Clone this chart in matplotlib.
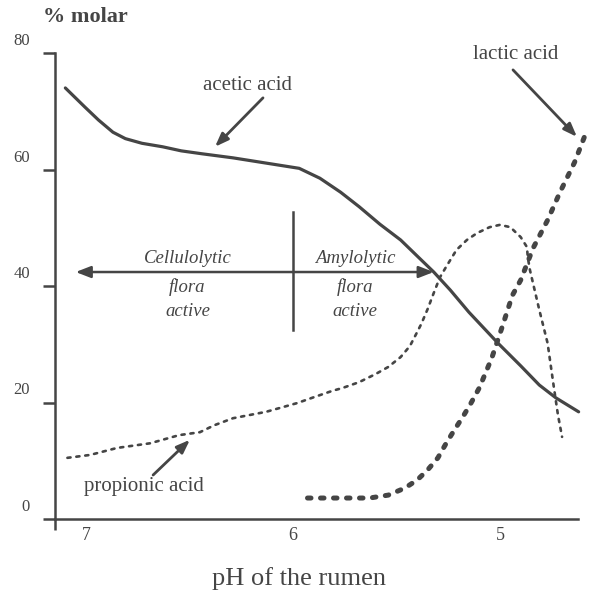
import matplotlib
matplotlib.use("Agg")
import matplotlib.pyplot as plt
import matplotlib.transforms as mtransforms

# ---- data ----
acetic_ph = [7.10, 7.005, 6.94, 6.87, 6.81, 6.73, 6.63, 6.54, 6.44, 6.29, 6.13, 5.97, 5.87, 5.77,
             5.68, 5.58, 5.48, 5.39, 5.32, 5.24, 5.15, 5.01, 4.90, 4.81, 4.73, 4.62]
acetic_val = [74.0, 70.7, 68.5, 66.4, 65.3, 64.5, 63.9, 63.2, 62.7, 62.0, 61.1, 60.2, 58.5, 56.1,
              53.6, 50.6, 47.9, 44.8, 42.4, 39.3, 35.5, 30.2, 26.3, 23.0, 20.8, 18.4]

propionic_ph = [7.09, 6.98, 6.85, 6.69, 6.55, 6.45, 6.38, 6.29, 6.13, 5.98, 5.90, 5.81, 5.76,
                5.68, 5.60, 5.54, 5.48, 5.435, 5.40, 5.38, 5.35, 5.32, 5.29, 5.26, 5.21, 5.16,
                5.11, 5.05, 5.00, 4.95, 4.90, 4.87, 4.865, 4.855, 4.81, 4.77, 4.74, 4.72, 4.70]
propionic_val = [10.5, 11.0, 12.2, 13.0, 14.4, 14.9, 16.1, 17.3, 18.4, 19.9, 20.9, 22.0, 22.5,
                 23.5, 24.9, 26.1, 27.8, 29.7, 32.1, 33.5, 36.0, 38.8, 41.5, 43.3, 46.2, 47.9,
                 49.1, 50.1, 50.5, 50.1, 48.4, 46.7, 44.8, 42.7, 35.9, 30.2, 22.7, 17.9, 14.1]

lactic_ph = [5.93, 5.74, 5.63, 5.54, 5.46, 5.40, 5.35, 5.30, 5.26, 5.22, 5.18, 5.14, 5.10, 5.04,
             4.99, 4.94, 4.90, 4.84, 4.77, 4.71, 4.64, 4.58]
lactic_val = [3.6, 3.6, 3.6, 4.1, 5.3, 6.7, 8.4, 10.5, 13.0, 15.3, 17.5, 19.9, 22.5, 27.6,
              32.9, 38.4, 41.0, 46.5, 51.3, 56.1, 61.2, 66.7]

y_ticks = [0, 20, 40, 60, 80]
x_ticks = [7, 6, 5]

C = "#454545"
SERIF = ["Liberation Serif", "DejaVu Serif"]
plt.rcParams["font.family"] = SERIF

fig = plt.figure(figsize=(6.0, 6.04), dpi=100)
ax = fig.add_axes([55 / 600, 1 - 519 / 604, (578 - 55) / 600, (519 - 53) / 604])
ax.set_xlim(7.15, 4.623)
ax.set_ylim(0, 80)

# curves
ax.plot(acetic_ph, acetic_val, color=C, lw=2.3, solid_capstyle="round",
        solid_joinstyle="round", clip_on=False)
ax.plot(propionic_ph, propionic_val, color=C, lw=1.9, linestyle=(0, (1.2, 2.2)),
        dash_capstyle="round", clip_on=False)
ax.plot(lactic_ph, lactic_val, color=C, lw=3.6, linestyle=(0, (0.7, 1.9)),
        dash_capstyle="round", clip_on=False)

# spines
for s in ["top", "right"]:
    ax.spines[s].set_visible(False)
for s in ["left", "bottom"]:
    ax.spines[s].set_color(C)
    ax.spines[s].set_linewidth(1.8)

ax.set_yticks(y_ticks)
ax.set_yticklabels([str(v) for v in y_ticks])
ax.tick_params(axis="y", direction="out", length=9, width=1.8, color=C,
               labelcolor=C, labelsize=12, pad=9)
off = mtransforms.ScaledTranslation(0, 14 / 100, fig.dpi_scale_trans)
for lab in ax.get_yticklabels():
    lab.set_transform(lab.get_transform() + off)

ax.set_xticks(x_ticks)
ax.set_xticklabels([str(v) for v in x_ticks])
ax.tick_params(axis="x", which="major", length=0, labelcolor=C, labelsize=13, pad=6)
ax.set_xticks([7.15], minor=True)
ax.tick_params(axis="x", which="minor", direction="out", length=8, width=1.8, color=C)

# axis titles
fig.text(43 / 600, 1 - 17 / 604, "% molar", color=C, fontsize=16, fontweight="bold",
         ha="left", va="center")
fig.text(299 / 600, 1 - 579 / 604, "pH of the rumen", color=C, fontsize=19,
         ha="center", va="center")

# flora regions
head = "-|>,head_length=0.9,head_width=0.35"
ax.annotate("", xy=(7.05, 42.4), xytext=(6.0, 42.4),
            arrowprops=dict(arrowstyle=head, color=C, lw=1.8, shrinkA=0, shrinkB=0))
ax.annotate("", xy=(5.32, 42.4), xytext=(6.0, 42.4),
            arrowprops=dict(arrowstyle=head, color=C, lw=1.8, shrinkA=0, shrinkB=0))
ax.plot([6.0, 6.0], [32.4, 52.7], color=C, lw=1.8)

for xc, word in [(6.51, "Cellulolytic"), (5.70, "Amylolytic")]:
    ax.text(xc, 44.7, word, style="italic", color=C, fontsize=13.5, ha="center", va="center")
    ax.text(xc, 39.9, "flora", style="italic", color=C, fontsize=13.5, ha="center", va="center")
    ax.text(xc, 35.6, "active", style="italic", color=C, fontsize=13.5, ha="center", va="center")

# labels with arrows
arrow = dict(arrowstyle="-|>,head_length=0.8,head_width=0.3", color=C, lw=2.0,
             shrinkA=0, shrinkB=0)
ax.text(6.22, 74.5, "acetic acid", color=C, fontsize=15, ha="center", va="center")
ax.annotate("", xy=(6.377, 63.9), xytext=(6.145, 72.3), arrowprops=arrow)
ax.text(4.923, 79.7, "lactic acid", color=C, fontsize=15, ha="center", va="center")
ax.annotate("", xy=(4.628, 65.6), xytext=(4.937, 77.1), arrowprops=arrow, annotation_clip=False)
ax.text(6.72, 5.5, "propionic acid", color=C, fontsize=15, ha="center", va="center")
ax.annotate("", xy=(6.498, 13.6), xytext=(6.676, 7.55), arrowprops=arrow)

fig.savefig("out.png", dpi=100)
